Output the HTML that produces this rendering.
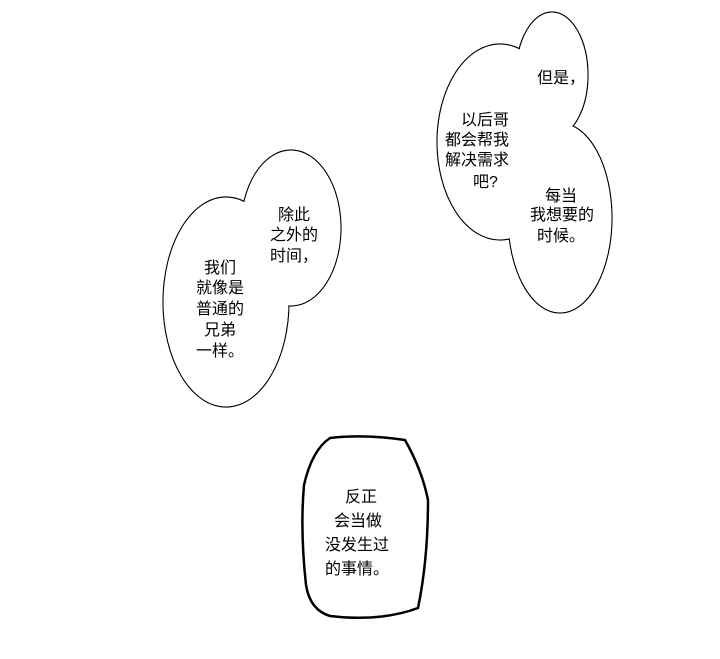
<html><body style="margin:0;background:#fff">
<svg width="720" height="659" xmlns="http://www.w3.org/2000/svg" style="display:block">
<g stroke="#000" stroke-width="1.2" fill="#fff">
<ellipse cx="552" cy="75" rx="36" ry="63"/>
<ellipse cx="500" cy="142" rx="63" ry="98"/>
<ellipse cx="560" cy="218" rx="52" ry="95"/>
<ellipse cx="226" cy="302" rx="63" ry="105"/>
<ellipse cx="291" cy="228" rx="50" ry="78"/>
</g>
<g fill="#fff">
<ellipse cx="552" cy="75" rx="35.4" ry="62.4"/>
<ellipse cx="500" cy="142" rx="62.4" ry="97.4"/>
<ellipse cx="560" cy="218" rx="51.4" ry="94.4"/>
<ellipse cx="226" cy="302" rx="62.4" ry="104.4"/>
<ellipse cx="291" cy="228" rx="49.4" ry="77.4"/>
</g>
<path d="M330 438 Q365 434 405 440 Q422 470 428 500 Q428 560 418 608 Q380 622 330 616 Q310 610 306 585 Q300 530 304 485 Q312 450 330 438 Z" fill="#fff" stroke="#000" stroke-width="2.5"/>
<g font-family="Liberation Sans, Noto Sans CJK SC, sans-serif" font-size="16" fill="#000">
<text x="537" y="83">但是，</text>
<text x="461" y="125">以后哥</text>
<text x="445" y="145">都会帮我</text>
<text x="445" y="165">解决需求</text>
<text x="473" y="187">吧?</text>
<text x="545" y="201">每当</text>
<text x="530" y="220">我想要的</text>
<text x="537" y="241">时候。</text>
<text x="278" y="220">除此</text>
<text x="270" y="240">之外的</text>
<text x="270" y="261">时间，</text>
<text x="204" y="273">我们</text>
<text x="196" y="293">就像是</text>
<text x="196" y="314">普通的</text>
<text x="204" y="335">兄弟</text>
<text x="196" y="356">一样。</text>
<text x="345" y="502">反正</text>
<text x="334" y="526">会当做</text>
<text x="325" y="550">没发生过</text>
<text x="325" y="574">的事情。</text>
</g>
</svg>
</body></html>
